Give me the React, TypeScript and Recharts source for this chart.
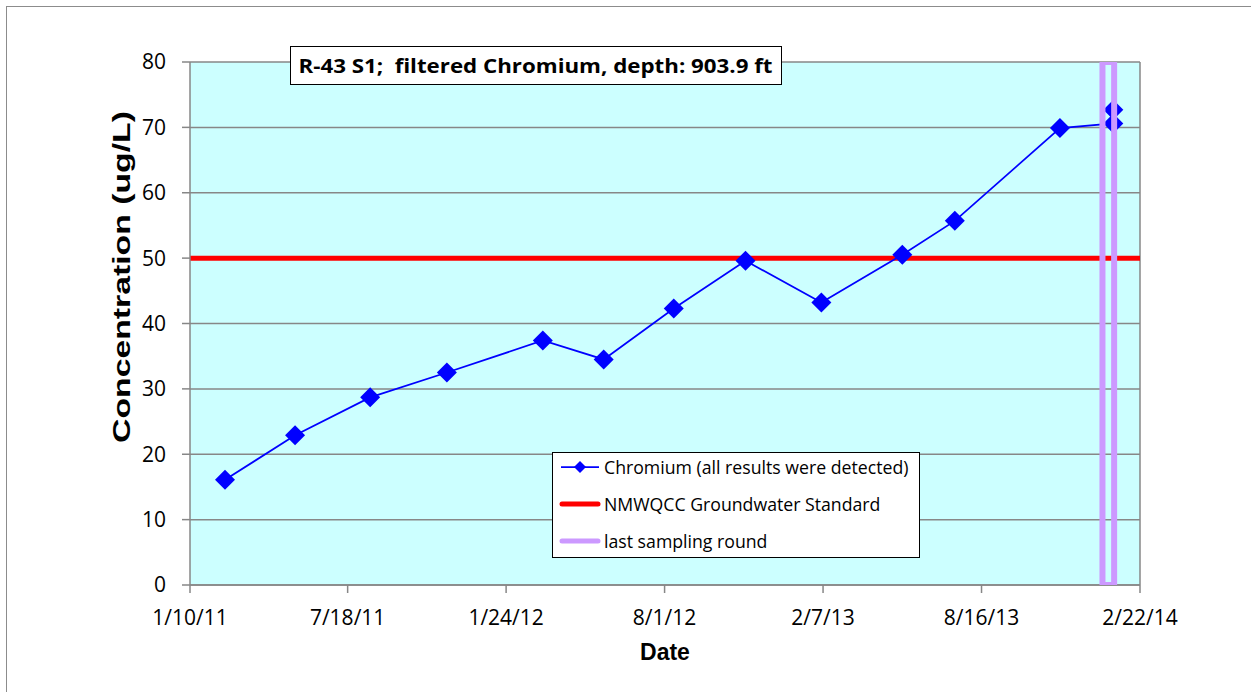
import {
  CartesianGrid,
  Label,
  Legend,
  Line,
  LineChart,
  ReferenceArea,
  ReferenceLine,
  XAxis,
  YAxis,
} from "recharts";

// sample dates (the last round was sampled twice)
const sampleDates = [
  "2011-02-21",
  "2011-05-16",
  "2011-08-14",
  "2011-11-14",
  "2012-03-08",
  "2012-05-20",
  "2012-08-12",
  "2012-11-06",
  "2013-02-05",
  "2013-05-13",
  "2013-07-15",
  "2013-11-18",
  "2014-01-21",
  "2014-01-21",
];
const chromiumValues = [16.1, 22.9, 28.7, 32.5, 37.4, 34.5, 42.3, 49.6, 43.2, 50.5, 55.7, 69.9, 70.6, 72.7];

const xTickLabels = ["1/10/11", "7/18/11", "1/24/12", "8/1/12", "2/7/13", "8/16/13", "2/22/14"];
const yTicks = [0, 10, 20, 30, 40, 50, 60, 70, 80];

const standardValue = 50;
const lastRoundDate = "2014-01-15";

const chartTitle = "R-43 S1;  filtered Chromium, depth: 903.9 ft";
const seriesNames = [
  "Chromium (all results were detected)",
  "NMWQCC Groundwater Standard",
  "last sampling round",
];

const DAY = 86400000;
const toTime = (iso: string) => {
  const [y, m, d] = iso.split("-").map(Number);
  return Date.UTC(y, m - 1, d);
};
const tickToTime = (s: string) => {
  const [m, d, y] = s.split("/").map(Number);
  return Date.UTC(2000 + y, m - 1, d);
};
const fmtTick = (t: number) => {
  const d = new Date(t);
  return `${d.getUTCMonth() + 1}/${d.getUTCDate()}/${d.getUTCFullYear() % 100}`;
};

const xTicks = xTickLabels.map(tickToTime);
const xMin = xTicks[0];
const xMax = xTicks[xTicks.length - 1];

const chromiumData = sampleDates.map((d, i) => ({ date: toTime(d), value: chromiumValues[i] }));
const standardData = [
  { date: xMin, value: standardValue },
  { date: xMax, value: standardValue },
];
const lastRound = toTime(lastRoundDate);

const BLUE = "#0000FF";
const RED = "#FF0000";
const PURPLE = "#CC99FF";
const GRID = "#878787";
const BODY_FONT = "'Open Sans', Carlito, sans-serif";
const BOLD_FONT = "'Liberation Sans', Arial, sans-serif";

function Diamond(props: any) {
  const { cx, cy } = props;
  if (cx == null || cy == null) return null;
  const r = 10;
  return (
    <polygon
      points={`${cx},${cy - r} ${cx + r},${cy} ${cx},${cy + r} ${cx - r},${cy}`}
      fill={BLUE}
      stroke="none"
    />
  );
}

function LegendBox() {
  const rowStyle: React.CSSProperties = {
    display: "flex",
    alignItems: "center",
    height: 37,
  };
  const icon = (i: number) => {
    if (i === 0)
      return (
        <svg width={42} height={14} style={{ marginRight: 3 }}>
          <line x1={2} y1={7} x2={40} y2={7} stroke={BLUE} strokeWidth={1.75} />
          <polygon points="21,1 27,7 21,13 15,7" fill={BLUE} />
        </svg>
      );
    const color = i === 1 ? RED : PURPLE;
    return (
      <svg width={42} height={14} style={{ marginRight: 3 }}>
        <line x1={3} y1={7} x2={39} y2={7} stroke={color} strokeWidth={5} strokeLinecap="round" />
      </svg>
    );
  };
  return (
    <div
      style={{
        boxSizing: "border-box",
        width: 368,
        height: 106,
        border: "1px solid #000",
        background: "#fff",
        padding: "0 0 0 6px",
        fontFamily: BODY_FONT,
        fontSize: 17.7,
        color: "#000",
        overflow: "hidden",
      }}
    >
      <div style={{ marginTop: -5 }}>
        {seriesNames.map((name, i) => (
          <div key={name} style={rowStyle}>
            {icon(i)}
            <span style={{ whiteSpace: "nowrap" }}>{name}</span>
          </div>
        ))}
      </div>
    </div>
  );
}

function YTitle(props: any) {
  const { viewBox } = props;
  const x = viewBox.x + viewBox.width - 60;
  const y = 277;
  return (
    <text
      x={x}
      y={y}
      transform={`rotate(-90, ${x}, ${y})`}
      textAnchor="middle"
      fontFamily={BOLD_FONT}
      fontWeight="bold"
      fontSize={23}
      textLength={332}
      lengthAdjust="spacingAndGlyphs"
      fill="#000"
    >
      Concentration (ug/L)
    </text>
  );
}

function XTitle(props: any) {
  const { viewBox } = props;
  const x = viewBox.x + viewBox.width / 2;
  const y = viewBox.y + 75;
  return (
    <text x={x} y={y} textAnchor="middle" fontFamily={BOLD_FONT} fontWeight="bold" fontSize={23} fill="#000">
      Date
    </text>
  );
}

export default function App() {
  return (
    <div
      style={{
        position: "absolute",
        top: 0,
        left: 0,
        width: 1251,
        height: 692,
        background: "#fff",
        overflow: "hidden",
      }}
    >
      <div
        style={{
          position: "absolute",
          left: 6,
          top: 6,
          width: 1260,
          height: 700,
          borderTop: "1px solid #8c8c8c",
          borderLeft: "1px solid #8c8c8c",
        }}
      />
      <LineChart
        width={1251}
        height={692}
        margin={{ top: 62, right: 111, bottom: 47, left: 50 }}
        style={{ position: "absolute", left: 0, top: 0 }}
      >
        <CartesianGrid fill="#CCFFFF" stroke={GRID} strokeWidth={1.5} vertical={false} />
        <XAxis
          dataKey="date"
          type="number"
          scale="linear"
          domain={[xMin, xMax]}
          ticks={xTicks}
          tickFormatter={fmtTick}
          allowDataOverflow
          height={60}
          axisLine={{ stroke: GRID, strokeWidth: 1.5 }}
          tickLine={{ stroke: GRID, strokeWidth: 1.5 }}
          tickSize={8}
          tickMargin={17}
          tick={{ fill: "#000", fontSize: 21, fontFamily: BODY_FONT }}
        >
          <Label content={XTitle} />
        </XAxis>
        <YAxis
          type="number"
          domain={[0, 80]}
          ticks={yTicks}
          width={140}
          axisLine={{ stroke: GRID, strokeWidth: 1.5 }}
          tickLine={{ stroke: GRID, strokeWidth: 1.5 }}
          tickSize={8}
          tickMargin={16}
          tick={{ fill: "#000", fontSize: 21, fontFamily: BODY_FONT }}
        >
          <Label content={YTitle} />
        </YAxis>
        <ReferenceLine x={xMax} stroke={GRID} strokeWidth={1.5} />
        <Line
          data={standardData}
          dataKey="value"
          name={seriesNames[1]}
          stroke={RED}
          strokeWidth={5}
          strokeLinecap="round"
          dot={false}
          activeDot={false}
          isAnimationActive={false}
        />
        <Line
          data={chromiumData}
          dataKey="value"
          name={seriesNames[0]}
          type="linear"
          stroke={BLUE}
          strokeWidth={1.75}
          dot={<Diamond />}
          activeDot={false}
          isAnimationActive={false}
        />
        <ReferenceArea
          x1={lastRound - 7 * DAY}
          x2={lastRound + 7 * DAY}
          y1={0}
          y2={80}
          fill="none"
          fillOpacity={0}
          stroke={PURPLE}
          strokeWidth={6}
          ifOverflow="hidden"
          zIndex={900}
        />
        <Legend
          layout="horizontal"
          verticalAlign="middle"
          align="center"
          content={() => <LegendBox />}
          wrapperStyle={{ position: "absolute", left: 552, top: 452, width: 368, height: 106 }}
        />
      </LineChart>
      <div
        style={{
          position: "absolute",
          left: 290,
          top: 46,
          width: 492,
          height: 39,
          boxSizing: "border-box",
          border: "1.5px solid #000",
          background: "#fff",
        }}
      >
        <svg width={489} height={36} style={{ display: "block" }}>
          <text
            x={244.5}
            y={25.5}
            textAnchor="middle"
            fontFamily={BODY_FONT}
            fontWeight="bold"
            fontSize={20}
            textLength={474}
            lengthAdjust="spacingAndGlyphs"
            fill="#000"
            style={{ whiteSpace: "pre" }}
          >
            {chartTitle}
          </text>
        </svg>
      </div>
    </div>
  );
}
